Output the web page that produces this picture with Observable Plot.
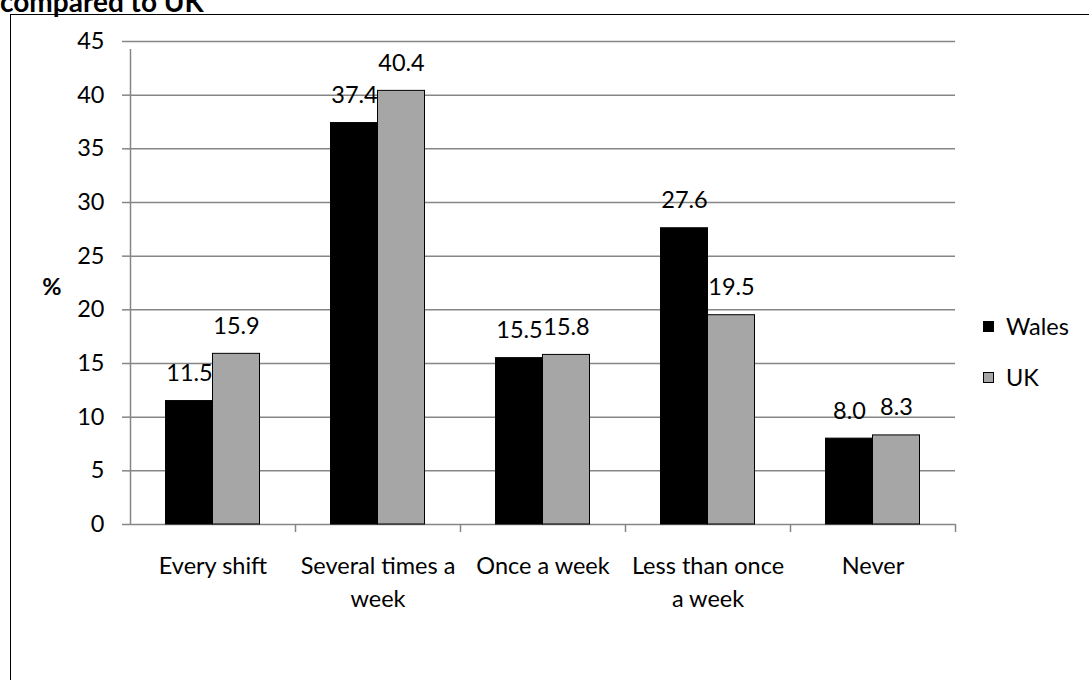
<!DOCTYPE html>
<html>
<head>
<meta charset="utf-8">
<script src="https://cdn.jsdelivr.net/npm/d3@7"></script>
<script src="https://cdn.jsdelivr.net/npm/@observablehq/plot@0.6"></script>
<style>
  html, body { margin: 0; padding: 0; background: #fff; overflow: hidden; }
  body { width: 1089px; height: 680px; position: relative; font-family: Lato, "Open Sans", sans-serif; color: #000; }
  #chart { position: absolute; left: 0; top: 0; }
  #frame { position: absolute; left: 10px; top: 14px; width: 1300px; height: 900px; border: 1.5px solid #000; z-index: 2; }
  #title { position: absolute; left: 0; top: -16px; font-weight: bold; font-size: 28px; line-height: normal; white-space: nowrap; z-index: 3; }
  #ylab { position: absolute; left: 32px; top: 272px; width: 40px; text-align: center; font-weight: bold; font-size: 23.5px; line-height: 28px; z-index: 3; }
  .leg { position: absolute; left: 983px; font-size: 23.5px; line-height: 28px; white-space: nowrap; z-index: 3; }
  .sw { position: absolute; left: 0; top: 8.5px; width: 11px; height: 11px; box-sizing: border-box; border: 1px solid #000; }
  .leg span.t { position: absolute; left: 23px; top: 0; }
</style>
</head>
<body>
<div id="title">compared to UK</div>
<div id="frame"></div>
<div id="chart"></div>
<div id="ylab">%</div>
<div id="legend"></div>
<script>
// ---- data ----
const categories = ["Every shift", "Several times a week", "Once a week", "Less than once a week", "Never"];
const tickLabels = ["Every shift", "Several times a\nweek", "Once a week", "Less than once\na week", "Never"];
const seriesNames = ["Wales", "UK"];
const seriesColors = ["#000000", "#a6a6a6"];
const walesValues = [11.5, 37.4, 15.5, 27.6, 8.0];
const ukValues = [15.9, 40.4, 15.8, 19.5, 8.3];
const yTicks = [0, 5, 10, 15, 20, 25, 30, 35, 40, 45];

const rows = categories.map((c, i) => ({category: c, Wales: walesValues[i], UK: ukValues[i]}));

const font = 23.5;
const grid = "#868686";
const half = 82.5; // half band width in px (band = 165)

const chart = Plot.plot({
  width: 1089,
  height: 680,
  marginLeft: 130,
  marginRight: 134,
  marginTop: 41,
  marginBottom: 156,
  style: {fontFamily: "Lato, 'Open Sans', sans-serif", fontSize: font + "px", color: "#000", background: "transparent", overflow: "visible"},
  x: {domain: categories, padding: 0, axis: null},
  y: {domain: [0, 45], axis: null},
  marks: [
    Plot.ruleY(yTicks, {stroke: grid, strokeWidth: 1.5}),
    Plot.axisY({ticks: yTicks, tickSize: 8, tickPadding: 18, tickFormat: d => String(d), stroke: grid, strokeWidth: 1.5, fill: "#000", fontSize: font, label: null}),
    // y axis line (plus its boundary tick below the baseline)
    Plot.ruleX([categories[0]], {x: d => d, y1: 0, y2: 45, dx: -half, insetBottom: -8, stroke: grid, strokeWidth: 1.5}),
    // category boundary ticks
    Plot.ruleX(categories.slice(1), {x: d => d, y1: 0, y2: 0, dx: -half, insetBottom: -8, stroke: grid, strokeWidth: 1.5}),
    Plot.ruleX([categories[categories.length - 1]], {x: d => d, y1: 0, y2: 0, dx: half, insetBottom: -8, stroke: grid, strokeWidth: 1.5}),
    Plot.barY(rows, {x: "category", y: "Wales", fill: seriesColors[0], stroke: "#000", strokeWidth: 1, insetLeft: 35.5, insetRight: 82.5}),
    Plot.barY(rows, {x: "category", y: "UK", fill: seriesColors[1], stroke: "#000", strokeWidth: 1, insetLeft: 82.5, insetRight: 35.5}),
    Plot.text(rows, {x: "category", y: "Wales", text: d => d.Wales.toFixed(1), dx: -23.5, dy: -20, lineAnchor: "bottom", fill: "#000", fontSize: font}),
    Plot.text(rows, {x: "category", y: "UK", text: d => d.UK.toFixed(1), dx: 23.5, dy: -20, lineAnchor: "bottom", fill: "#000", fontSize: font}),
    Plot.axisX({tickSize: 0, tickPadding: 26, lineHeight: 1.4, fontSize: font, fill: "#000", label: null, tickFormat: d => tickLabels[categories.indexOf(d)]})
  ]
});
document.getElementById("chart").appendChild(chart);

// legend
const legend = document.getElementById("legend");
const legTops = [312, 363];
seriesNames.forEach((name, i) => {
  const row = document.createElement("div");
  row.className = "leg";
  row.style.top = legTops[i] + "px";
  row.innerHTML = `<span class="sw" style="background:${seriesColors[i]}"></span><span class="t">${name}</span>`;
  legend.appendChild(row);
});
</script>
</body>
</html>
